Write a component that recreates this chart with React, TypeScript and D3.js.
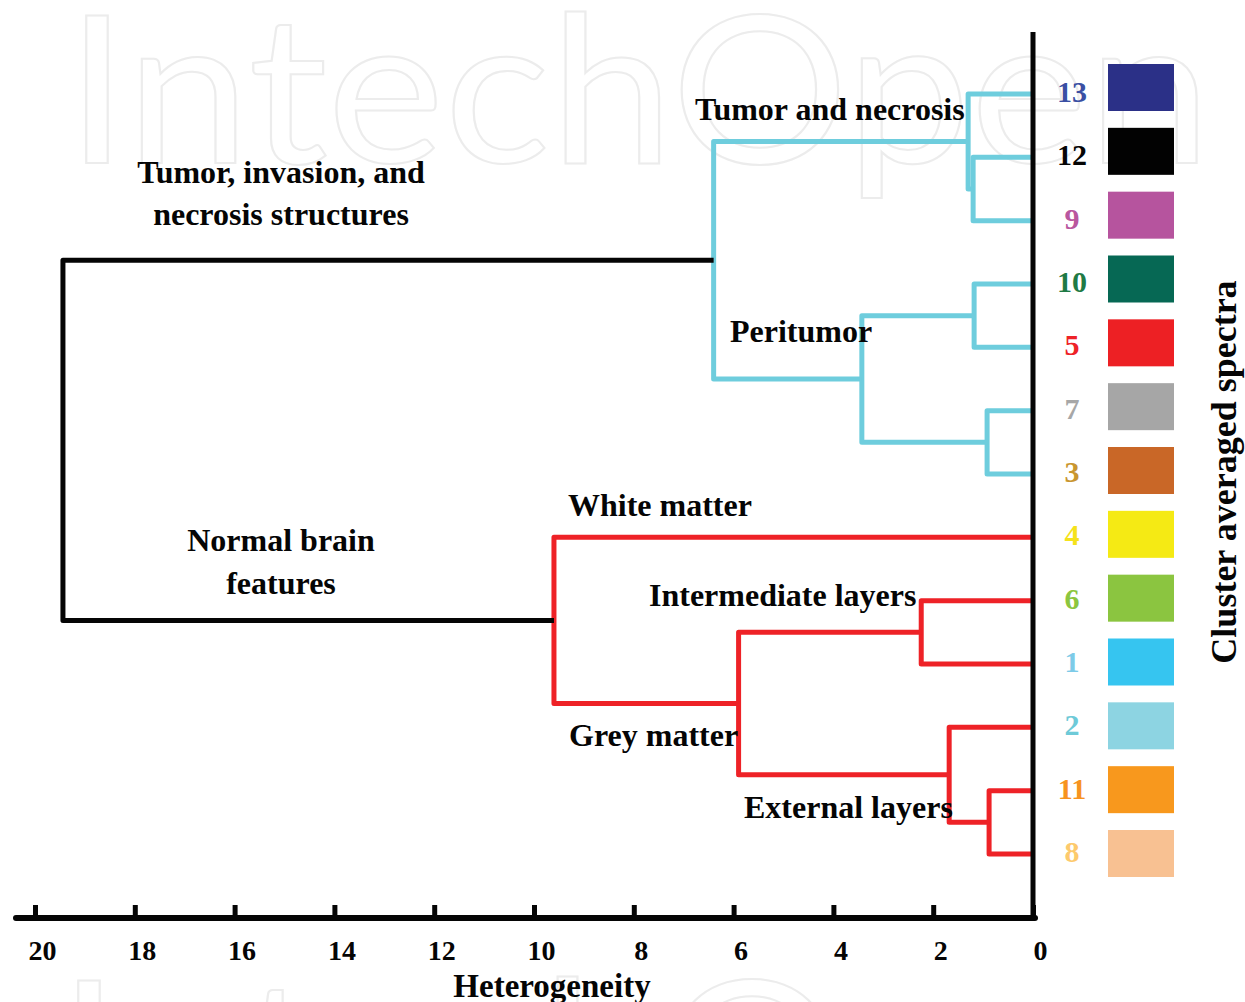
import { useEffect, useRef } from 'react';
import * as d3 from 'd3';

// leaves top to bottom
const leafLabels = ['13', '12', '9', '10', '5', '7', '3', '4', '6', '1', '2', '11', '8'];
const labelColors = ['#3a4fa3', '#050505', '#b9579f', '#1f7a45', '#ee2227', '#a7a7a7', '#c9962f', '#f5e21b', '#8cc63f', '#7dcbe8', '#6ecad8', '#f7931e', '#fdca6d'];
const swatchColors = ['#2b3087', '#020202', '#b6549e', '#066854', '#ed2024', '#a6a6a6', '#c96727', '#f5ea14', '#8bc540', '#36c5f0', '#8dd4e2', '#f8981d', '#f8c192'];

// merges: [id, child A, child B, height, group]
const merges: [string, string, string, number, string][] = [
  ['a', '12', '9', 1.2, 'tumor'],
  ['b', '13', 'a', 1.3, 'tumor'],
  ['c', '10', '5', 1.18, 'tumor'],
  ['d', '7', '3', 0.92, 'tumor'],
  ['e', 'c', 'd', 3.43, 'tumor'],
  ['f', 'b', 'e', 6.4, 'tumor'],
  ['g', '6', '1', 2.24, 'normal'],
  ['h', '11', '8', 0.88, 'normal'],
  ['i', '2', 'h', 1.68, 'normal'],
  ['j', 'g', 'i', 5.9, 'normal'],
  ['k', '4', 'j', 9.6, 'normal'],
  ['root', 'f', 'k', 19.44, 'root'],
];

const groupColors: Record<string, string> = { tumor: '#6ecddd', normal: '#ee2227', root: '#050505' };

const xTicks = [20, 18, 16, 14, 12, 10, 8, 6, 4, 2, 0];

const annotations: [string, number, number, string][] = [
  ['Tumor and necrosis', 695, 120, 'start'],
  ['Tumor, invasion, and', 281, 183, 'middle'],
  ['necrosis structures', 281, 225, 'middle'],
  ['Peritumor', 730, 342, 'start'],
  ['White matter', 568, 516, 'start'],
  ['Normal brain', 281, 551, 'middle'],
  ['features', 281, 594, 'middle'],
  ['Intermediate layers', 649, 606, 'start'],
  ['Grey matter', 569, 746, 'start'],
  ['External layers', 744, 818, 'start'],
];

function App() {
  const ref = useRef(null);
  const svgWidth = 1245;
  const svgHeight = 1002;

  useEffect(() => {
    const svg = d3.select(ref.current);
    svg.selectAll('*').remove();
    const font = '"Liberation Serif", serif';

    // watermark, drawn twice (second one mostly off the bottom)
    [[66, 163], [58, 1128]].forEach(([wx, wy]) => {
      svg
        .append('text')
        .attr('x', wx)
        .attr('y', wy)
        .attr('font-family', 'Lato, sans-serif')
        .attr('font-size', 205)
        .attr('textLength', 1145)
        .attr('lengthAdjust', 'spacingAndGlyphs')
        .attr('fill', 'none')
        .attr('stroke', '#ececec')
        .attr('stroke-width', 2)
        .text('IntechOpen');
    });

    const x = d3.scaleLinear().domain([20, 0]).range([35, 1033]);
    const y = d3.scalePoint().domain(leafLabels).range([94, 854]);
    const ySwatch = d3.scalePoint().domain(leafLabels).range([64, 830]);

    // node positions
    const pos: Record<string, { x: number; y: number }> = {};
    leafLabels.forEach((l) => (pos[l] = { x: x(0), y: y(l) as number }));
    const links: { d: string; color: string }[] = [];
    merges.forEach(([id, a, b, h, group]) => {
      const px = x(h);
      const ya = pos[a].y;
      const yb = pos[b].y;
      pos[id] = { x: px, y: (ya + yb) / 2 };
      links.push({ d: `M${pos[a].x},${ya}H${px}V${yb}H${pos[b].x}`, color: groupColors[group] });
    });

    svg
      .append('g')
      .attr('fill', 'none')
      .attr('stroke-width', 5)
      .attr('stroke-linejoin', 'round')
      .selectAll('path')
      .data(links)
      .join('path')
      .attr('d', (d) => d.d)
      .attr('stroke', (d) => d.color);

    // right vertical axis line
    svg
      .append('line')
      .attr('x1', x(0))
      .attr('x2', x(0))
      .attr('y1', 32)
      .attr('y2', 918)
      .attr('stroke', '#050505')
      .attr('stroke-width', 5);

    // bottom axis, ticks pointing up
    const axisG = svg
      .append('g')
      .attr('transform', 'translate(0, 918)')
      .call(d3.axisBottom(x).tickValues(xTicks).tickSize(-13).tickPadding(22).tickFormat(d3.format('d')));
    axisG.select('.domain').remove();
    axisG.selectAll('.tick line').attr('stroke', '#050505').attr('stroke-width', 5);
    axisG
      .selectAll('.tick text')
      .attr('font-family', font)
      .attr('font-weight', 'bold')
      .attr('font-size', 28)
      .attr('dx', 7)
      .attr('fill', '#050505');
    axisG
      .append('line')
      .attr('x1', 16)
      .attr('x2', 1035)
      .attr('y1', 0)
      .attr('y2', 0)
      .attr('stroke', '#050505')
      .attr('stroke-width', 6)
      .attr('stroke-linecap', 'round');

    svg
      .append('text')
      .attr('x', 552)
      .attr('y', 997)
      .attr('text-anchor', 'middle')
      .attr('font-family', font)
      .attr('font-weight', 'bold')
      .attr('font-size', 33)
      .attr('fill', '#050505')
      .text('Heterogeneity');

    // leaf labels and swatches
    svg
      .append('g')
      .selectAll('text')
      .data(leafLabels)
      .join('text')
      .attr('x', 1072)
      .attr('y', (d) => (y(d) as number) + 8)
      .attr('text-anchor', 'middle')
      .attr('font-family', font)
      .attr('font-weight', 'bold')
      .attr('font-size', 30)
      .attr('fill', (d, i) => labelColors[i])
      .text((d) => d);

    svg
      .append('g')
      .selectAll('rect')
      .data(leafLabels)
      .join('rect')
      .attr('x', 1108)
      .attr('y', (d) => ySwatch(d) as number)
      .attr('width', 66)
      .attr('height', 47)
      .attr('fill', (d, i) => swatchColors[i]);

    svg
      .append('text')
      .attr('transform', 'translate(1236, 472) rotate(-90)')
      .attr('text-anchor', 'middle')
      .attr('font-family', font)
      .attr('font-weight', 'bold')
      .attr('font-size', 36)
      .attr('fill', '#050505')
      .text('Cluster averaged spectra');

    // annotations
    svg
      .append('g')
      .selectAll('text')
      .data(annotations)
      .join('text')
      .attr('x', (d) => d[1])
      .attr('y', (d) => d[2])
      .attr('text-anchor', (d) => d[3])
      .attr('font-family', font)
      .attr('font-weight', 'bold')
      .attr('font-size', 32)
      .attr('fill', '#050505')
      .text((d) => d[0]);
  }, []);

  return (
    <svg
      ref={ref}
      width={svgWidth}
      height={svgHeight}
      style={{ position: 'absolute', left: 0, top: 0, background: '#fff' }}
    ></svg>
  );
}

export default App;
